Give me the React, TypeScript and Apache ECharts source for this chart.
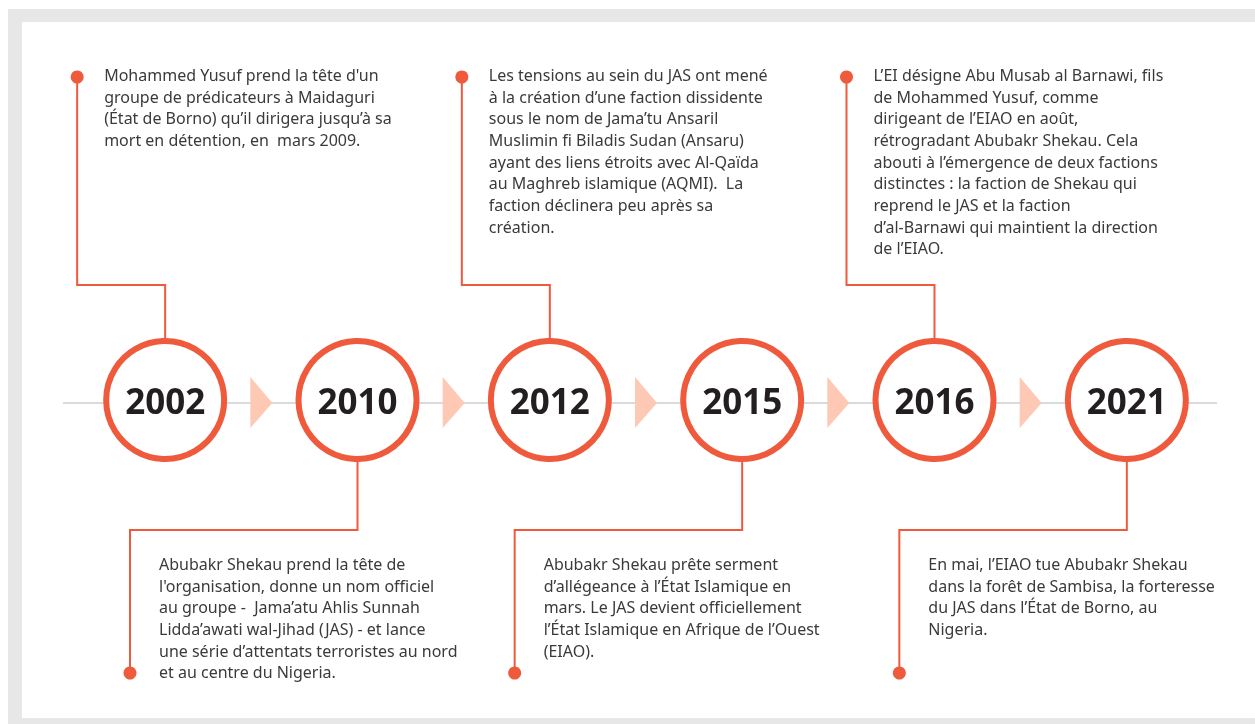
import React, { useEffect, useRef } from "react";
import * as echarts from "echarts";

// ---- data ----
const years = ["2002", "2010", "2012", "2015", "2016", "2021"];
const eventSides = ["top", "bottom", "top", "bottom", "top", "bottom"];
const eventTexts = [
  [
    "Mohammed Yusuf prend la tête d'un",
    "groupe de prédicateurs à Maidaguri",
    "(État de Borno) qu’il dirigera jusqu’à sa",
    "mort en détention, en  mars 2009.",
  ],
  [
    "Abubakr Shekau prend la tête de",
    "l'organisation, donne un nom officiel",
    "au groupe -  Jama’atu Ahlis Sunnah",
    "Lidda’awati wal-Jihad (JAS) - et lance",
    "une série d’attentats terroristes au nord",
    "et au centre du Nigeria.",
  ],
  [
    "Les tensions au sein du JAS ont mené",
    "à la création d’une faction dissidente",
    "sous le nom de Jama’tu Ansaril",
    "Muslimin fi Biladis Sudan (Ansaru)",
    "ayant des liens étroits avec Al-Qaïda",
    "au Maghreb islamique (AQMI).  La",
    "faction déclinera peu après sa",
    "création.",
  ],
  [
    "Abubakr Shekau prête serment",
    "d’allégeance à l’État Islamique en",
    "mars. Le JAS devient officiellement",
    "l’État Islamique en Afrique de l’Ouest",
    "(EIAO).",
  ],
  [
    "L’EI désigne Abu Musab al Barnawi, fils",
    "de Mohammed Yusuf, comme",
    "dirigeant de l’EIAO en août,",
    "rétrogradant Abubakr Shekau. Cela",
    "abouti à l’émergence de deux factions",
    "distinctes : la faction de Shekau qui",
    "reprend le JAS et la faction",
    "d’al-Barnawi qui maintient la direction",
    "de l’EIAO.",
  ],
  [
    "En mai, l’EIAO tue Abubakr Shekau",
    "dans la forêt de Sambisa, la forteresse",
    "du JAS dans l’État de Borno, au",
    "Nigeria.",
  ],
];

// ---- styles ----
const ACCENT = "#EF5A3D";
const ARROW = "#FDC9B4";
const LINE = "#DADADA";
const TEXT = "#3a3a3a";
const YEAR = "#231F20";
const FRAME = "#E7E7E8";
const BODY_FONT = '16px "Noto Sans"';
const LINE_H = 21.7;

export default function App() {
  const ref = useRef<HTMLDivElement>(null);

  useEffect(() => {
    const chart = echarts.init(ref.current as HTMLDivElement, null, { renderer: "svg" });

    const option: any = {
      animation: false,
      grid: { left: 69, width: 1154, top: 76, height: 648 },
      xAxis: { type: "category", data: years, show: false, boundaryGap: true },
      yAxis: { type: "value", min: -1, max: 1, show: false },
      graphic: [
        { type: "rect", z: -10, silent: true, shape: { x: 8, y: 9, width: 1260, height: 730 }, style: { fill: FRAME } },
        { type: "rect", z: -9, silent: true, shape: { x: 22, y: 22, width: 1250, height: 696 }, style: { fill: "#ffffff" } },
        { type: "line", z: -8, silent: true, shape: { x1: 63, y1: 403, x2: 1217, y2: 403 }, style: { stroke: LINE, lineWidth: 2 } },
      ],
      series: [
        {
          type: "custom",
          name: "arrows",
          z: 3,
          silent: true,
          clip: false,
          data: years.slice(0, -1).map((_, i) => [i, 0]),
          renderItem: (params: any, api: any) => {
            const i = api.value(0);
            const a = api.coord([i, 0]);
            const b = api.coord([i + 1, 0]);
            const mx = (a[0] + b[0]) / 2;
            const ly = a[1] + 3;
            return {
              type: "polygon",
              shape: { points: [[mx - 11, ly - 26], [mx + 11, ly], [mx - 11, ly + 25]] },
              style: { fill: ARROW },
            };
          },
        },
        {
          type: "custom",
          name: "events",
          z: 3,
          silent: true,
          clip: false,
          data: years.map((_, i) => [i, 0]),
          renderItem: (params: any, api: any) => {
            const idx = params.dataIndex;
            const c = api.coord([api.value(0), 0]);
            const cx = c[0];
            const cy = c[1];
            const top = eventSides[idx] === "top";
            let pts: number[][];
            let dot: number[];
            let tx: number;
            let ty: number;
            if (top) {
              const dx = cx - 88;
              pts = [[dx, cy - 323], [dx, cy - 115], [cx, cy - 115], [cx, cy - 62]];
              dot = [dx, cy - 323];
              tx = dx + 27;
              ty = cy - 336;
            } else {
              const dx = cx - 227.5;
              pts = [[cx, cy + 62], [cx, cy + 130], [dx, cy + 130], [dx, cy + 273]];
              dot = [dx, cy + 273];
              tx = dx + 29;
              ty = cy + 153;
            }
            return {
              type: "group",
              children: [
                { type: "polyline", shape: { points: pts }, style: { stroke: ACCENT, lineWidth: 2, fill: null } },
                { type: "circle", shape: { cx: dot[0], cy: dot[1], r: 6.5 }, style: { fill: ACCENT } },
                {
                  type: "text",
                  style: {
                    text: eventTexts[idx].join("\n"),
                    x: tx,
                    y: ty,
                    font: BODY_FONT,
                    fill: TEXT,
                    lineHeight: LINE_H,
                    align: "left",
                    verticalAlign: "top",
                  },
                },
              ],
            };
          },
        },
        {
          type: "scatter",
          name: "years",
          z: 5,
          silent: true,
          symbol: "circle",
          symbolSize: 118,
          data: years.map((y, i) => [i, 0]),
          itemStyle: { color: "#ffffff", borderColor: ACCENT, borderWidth: 6, opacity: 1 },
          label: {
            show: true,
            position: "inside",
            formatter: (p: any) => years[p.dataIndex],
            fontFamily: '"Open Sans"',
            fontWeight: "bold",
            fontSize: 35,
            color: YEAR,
          },
        },
      ],
    };

    chart.setOption(option);
    return () => chart.dispose();
  }, []);

  return (
    <div
      ref={ref}
      style={{ position: "fixed", left: 0, top: 0, width: 1255, height: 724 }}
    />
  );
}
